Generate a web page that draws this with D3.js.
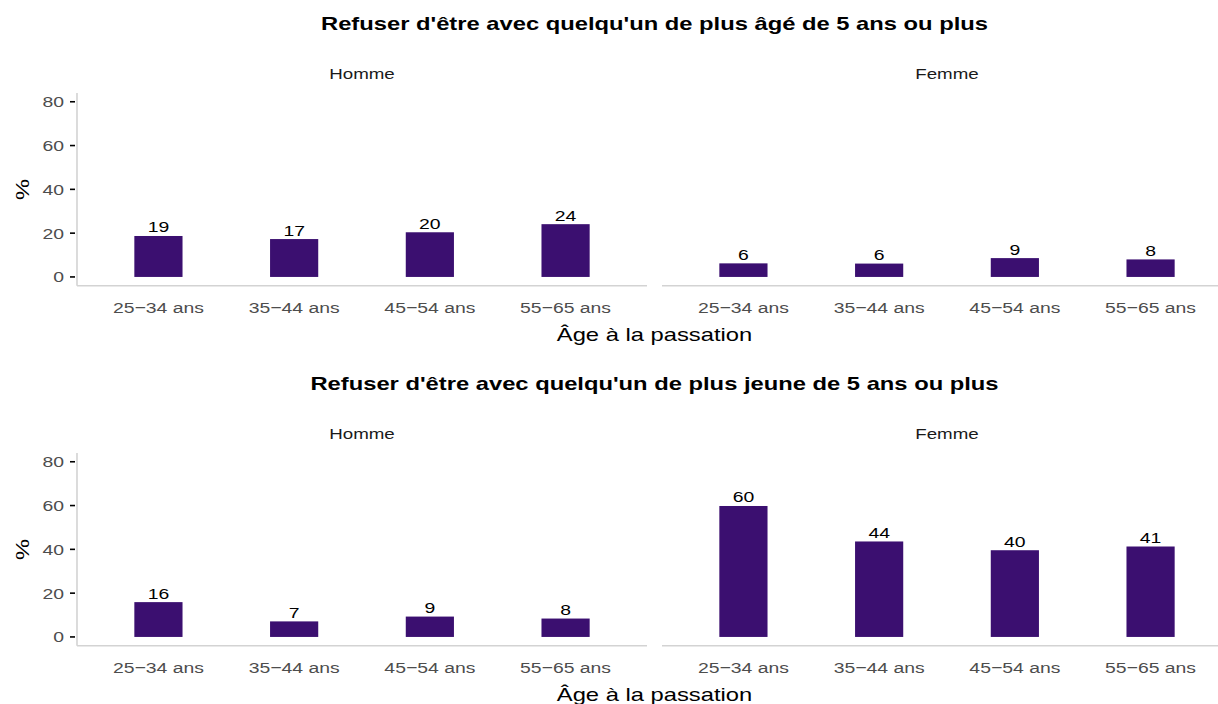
<!DOCTYPE html>
<html>
<head>
<meta charset="utf-8">
<script src="https://cdn.jsdelivr.net/npm/d3@7"></script>
<style>
  body { margin: 0; background: #fff; }
  svg { font-family: "Liberation Sans", Arial, sans-serif; display: block; }
  .title { font-size: 19px; font-weight: bold; fill: #000; }
  .strip { font-size: 15px; fill: #1a1a1a; }
  .tick-label { font-size: 15.5px; fill: #4d4d4d; }
  .axis-title { font-size: 19px; fill: #000; }
  .bar-label { font-size: 15.5px; fill: #000; }
</style>
</head>
<body>
<svg width="1218" height="704"></svg>
<script>
const titles = [
  "Refuser d'être avec quelqu'un de plus âgé de 5 ans ou plus",
  "Refuser d'être avec quelqu'un de plus jeune de 5 ans ou plus"
];
const sexes = ["Homme", "Femme"];
const ages = ["25−34 ans", "35−44 ans", "45−54 ans", "55−65 ans"];
const yTicks = [0, 20, 40, 60, 80];

// valeurs (%) par âge
const olderHomme = [18.7, 17.3, 20.4, 24.1];
const olderFemme = [6.2, 6.1, 8.6, 8.0];
const youngerHomme = [15.9, 7.1, 9.3, 8.4];
const youngerFemme = [59.8, 43.6, 39.6, 41.3];

const panels = [
  [olderHomme, olderFemme],
  [youngerHomme, youngerFemme]
];

const barColor = "#3b0f70";
const stretch = 1.25; // texte un peu plus large que la police
const svg = d3.select("svg");

const panelW = 570;
const panelX = [77, 662];
const rowOffset = 360;

const y = d3.scaleLinear().domain([-4, 84]).range([285.7, 93]);

// discrete axis with 0.6 unit expansion on each side
const x = d3.scalePoint().domain(ages).range([0.6, 3.6]);
const unit = panelW / 4.2;
const xCenter = a => x(a) * unit;
const barW = unit * 0.355;

const plotCenter = (panelX[0] + panelX[1] + panelW) / 2;

function label(sel, cls, px, py, txt, anchor, rot) {
  return sel.append("text")
    .attr("class", cls)
    .attr("transform", `translate(${px}, ${py}) scale(${stretch}, 1)` + (rot ? ` rotate(${rot})` : ""))
    .attr("text-anchor", anchor || "middle")
    .text(txt);
}

panels.forEach((row, r) => {
  const g = svg.append("g").attr("transform", `translate(0, ${r * rowOffset})`);

  label(g, "title", plotCenter, 30, titles[r]);

  // y axis
  g.append("line")
    .attr("x1", panelX[0]).attr("x2", panelX[0])
    .attr("y1", y(84)).attr("y2", y(-4))
    .attr("stroke", "#d3d3d3").attr("stroke-width", 1.6);

  yTicks.forEach(t => {
    g.append("line")
      .attr("x1", panelX[0] - 7).attr("x2", panelX[0] - 2)
      .attr("y1", y(t)).attr("y2", y(t))
      .attr("stroke", "#000").attr("stroke-width", 1.6);
    label(g, "tick-label", panelX[0] - 13, y(t) + 5.5, t, "end");
  });

  g.append("text")
    .attr("class", "axis-title")
    .attr("transform", `translate(29, ${y(40)}) scale(1, ${stretch}) rotate(-90)`)
    .attr("text-anchor", "middle")
    .text("%");

  row.forEach((vals, s) => {
    const pg = g.append("g").attr("transform", `translate(${panelX[s]}, 0)`);

    label(pg, "strip", panelW / 2, 79, sexes[s]);

    pg.append("line")
      .attr("x1", 0).attr("x2", panelW)
      .attr("y1", y(-4)).attr("y2", y(-4))
      .attr("stroke", "#d3d3d3").attr("stroke-width", 1.6);

    pg.selectAll("rect.bar")
      .data(vals)
      .enter()
      .append("rect")
      .attr("class", "bar")
      .attr("x", (d, i) => xCenter(ages[i]) - barW / 2)
      .attr("width", barW)
      .attr("y", d => y(d))
      .attr("height", d => y(0) - y(d))
      .attr("fill", barColor);

    vals.forEach((d, i) => {
      label(pg, "bar-label", xCenter(ages[i]), y(d) - 3.5, d3.format(".0f")(d));
    });

    ages.forEach(a => {
      label(pg, "tick-label", xCenter(a), 313, a);
    });
  });

  label(g, "axis-title", plotCenter, 341, "Âge à la passation");
});
</script>
</body>
</html>
